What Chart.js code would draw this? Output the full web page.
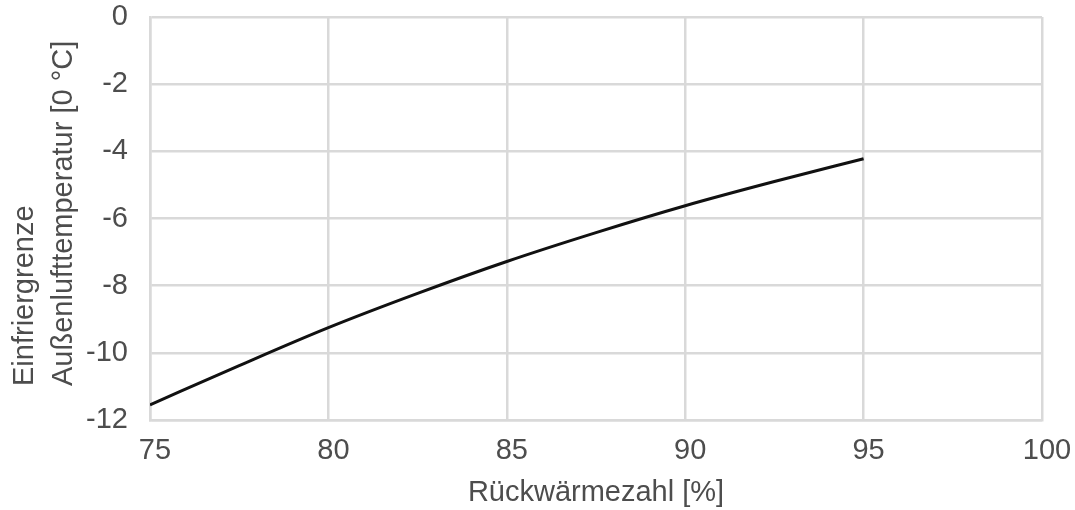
<!DOCTYPE html>
<html>
<head>
<meta charset="utf-8">
<script src="https://cdn.jsdelivr.net/npm/chart.js@4/dist/chart.umd.min.js"></script>
<style>
    html, body { margin: 0; padding: 0; background: #fff; }
    #wrap { width: 1075px; height: 510px; }
</style>
</head>
<body>
<div id="wrap"><canvas id="chart" width="1075" height="510"></canvas></div>
<script>
// Rückwärmezahl [%]
const rueckwaermezahl = [75, 77.5, 80, 82.5, 85, 87.5, 90, 92.5, 95];
// Einfriergrenze Außenlufttemperatur [°C]
const einfriergrenze = [-11.55, -10.38, -9.25, -8.23, -7.28, -6.42, -5.62, -4.9, -4.22];

const xTitle = 'Rückwärmezahl [%]';
const yTitleLines = ['Einfriergrenze', 'Außenlufttemperatur [0 °C]'];

const textColor = '#4d4d4d';
const gridColor = '#d9d9d9';
const fontFamily = '"Liberation Sans", Arial, sans-serif';

// Y-Achsentitel zweizeilig, linksbündig (von unten) wie im Original
const yTitlePlugin = {
    id: 'yTitle',
    afterDraw(chart) {
        const ctx = chart.ctx;
        ctx.save();
        ctx.fillStyle = textColor;
        ctx.font = '29px ' + fontFamily;
        ctx.textAlign = 'left';
        ctx.textBaseline = 'middle';
        const xs = [25, 64];
        yTitleLines.forEach((line, i) => {
            ctx.save();
            ctx.translate(xs[i], 386);
            ctx.rotate(-Math.PI / 2);
            ctx.fillText(line, 0, 0);
            ctx.restore();
        });
        ctx.restore();
    }
};

const points = rueckwaermezahl.map((x, i) => ({ x: x, y: einfriergrenze[i] }));

new Chart(document.getElementById('chart'), {
    type: 'scatter',
    data: {
        datasets: [{
            data: points,
            showLine: true,
            borderColor: '#111111',
            borderWidth: 3,
            pointRadius: 0,
            tension: 0.4,
            cubicInterpolationMode: 'monotone',
            fill: false
        }]
    },
    options: {
        responsive: false,
        animation: false,
        layout: {
            padding: { top: 17, right: 33, bottom: 0, left: 0 }
        },
        plugins: {
            legend: { display: false },
            tooltip: { enabled: false }
        },
        scales: {
            x: {
                type: 'linear',
                min: 75,
                max: 100,
                ticks: {
                    stepSize: 5,
                    color: textColor,
                    font: { family: fontFamily, size: 29 },
                    padding: 14,
                    labelOffset: 5,
                    maxRotation: 0
                },
                grid: { color: gridColor, lineWidth: 2.5, drawTicks: false },
                border: { color: gridColor, width: 2.5 },
                title: {
                    display: true,
                    text: xTitle,
                    color: textColor,
                    font: { family: fontFamily, size: 29 },
                    padding: { top: 0, bottom: 0 }
                },
                afterFit(scale) {
                    scale.height = 90;
                    scale.paddingLeft = 0;
                    scale.paddingRight = 0;
                }
            },
            y: {
                type: 'linear',
                min: -12,
                max: 0,
                ticks: {
                    stepSize: 2,
                    color: textColor,
                    font: { family: fontFamily, size: 29 },
                    padding: 22
                },
                grid: { color: gridColor, lineWidth: 2.5, drawTicks: false },
                border: { color: gridColor, width: 2.5 },
                afterFit(scale) {
                    scale.width = 150;
                    scale.paddingTop = 0;
                    scale.paddingBottom = 0;
                }
            }
        }
    },
    plugins: [yTitlePlugin]
});
</script>
</body>
</html>
